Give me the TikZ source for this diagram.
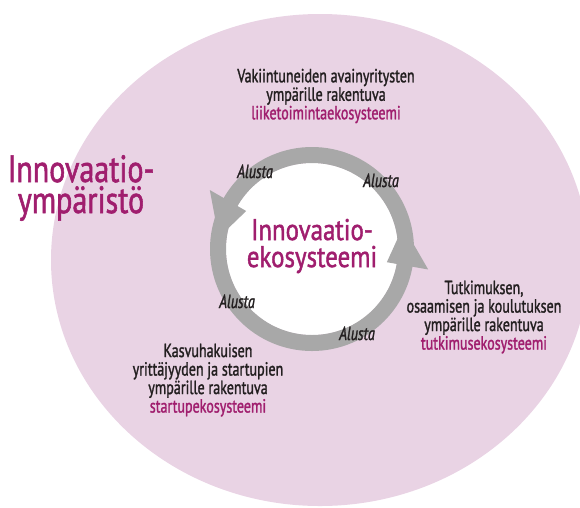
\documentclass[tikz,border=0pt]{standalone}
\usepackage{fontspec}
\setmainfont{PT Sans}[FakeStretch=0.74, FakeBold=1.4]
\usetikzlibrary{calc}
\definecolor{envpink}{RGB}{233,211,228}
\definecolor{ringgray}{RGB}{168,168,168}
\definecolor{ecomagenta}{RGB}{160,30,110}
\definecolor{textdark}{RGB}{35,31,32}
\tikzset{
	smalltext/.style={text=textdark, align=center, inner sep=0pt, font=\fontsize{19}{18.5}\selectfont},
	platform/.style={text=textdark, inner sep=0pt, anchor=base, font=\fontsize{19}{19}\selectfont\itshape},
	bigtext/.style={text=ecomagenta, align=center, inner sep=0pt}
}
\def\ringarrow(#1)(#2:#3){\fill[ringgray] ($(#1)+(#2:76pt)$) -- ($(#1)+(#2:118pt)$) -- ($(#1)+(#3:94pt)$) -- cycle;}

\begin{document}
\begin{tikzpicture}[x=1pt, y=-1pt]
		%%%%% START %%%%%
		\useasboundingbox (0,0) rectangle (580,507);
		\fill[envpink] (320,260) ellipse [x radius=269pt, y radius=246pt];
		
		\coordinate (ring) at (312,249);
		\fill[white] (ring) circle [radius=86pt];
		\draw[ringgray, line width=16pt] (ring) circle [radius=94pt];
		\ringarrow(ring)(150:173)
		\ringarrow(ring)(-10:14)
		
		\node[bigtext, font=\fontsize{38}{31}\selectfont\addfontfeatures{FakeStretch=0.79}] (env) at (81,188) {Innovaatio-\\ympäristö};
		\node[bigtext, font=\fontsize{30}{27}\selectfont\addfontfeatures{FakeStretch=0.83}] (eco) at (312,246) {Innovaatio-\\ekosysteemi};
		
		\node[smalltext] (business) at (326,96) {Vakiintuneiden avainyritysten\\ympärille rakentuva\\\textcolor{ecomagenta}{liiketoimintaekosysteemi}};
		\node[smalltext] (research) at (484,317) {Tutkimuksen,\\osaamisen ja koulutuksen\\ympärille rakentuva\\\textcolor{ecomagenta}{tutkimusekosysteemi}};
		\node[smalltext] (startup) at (208,380) {Kasvuhakuisen\\yrittäjyyden ja startupien\\ympärille rakentuva\\\textcolor{ecomagenta}{startupekosysteemi}};
		
		\node[platform] (alusta1) at (255,178) {Alusta};
		\node[platform] (alusta2) at (381,187) {Alusta};
		\node[platform] (alusta3) at (237,308) {Alusta};
		\node[platform] (alusta4) at (357,340) {Alusta};
		%%%%% END %%%%%
	\end{tikzpicture}
\end{document}
